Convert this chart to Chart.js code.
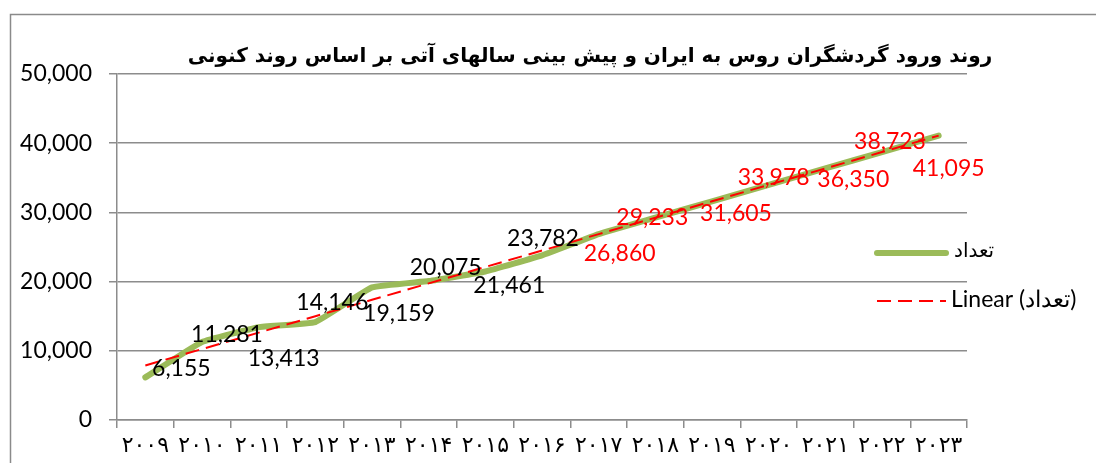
<!DOCTYPE html>
<html>
<head>
<meta charset="utf-8">
<script src="https://cdn.jsdelivr.net/npm/chart.js@4/dist/chart.umd.min.js"></script>
<style>
  html, body { margin: 0; padding: 0; background: #fff; }
  #chart { display: block; }
</style>
</head>
<body>
<canvas id="chart" width="1096" height="463"></canvas>
<script>
const TITLE = 'روند ورود گردشگران روس به ایران و پیش بینی سالهای آتی بر اساس روند کنونی';
const YEARS = ['۲۰۰۹', '۲۰۱۰', '۲۰۱۱', '۲۰۱۲', '۲۰۱۳', '۲۰۱۴', '۲۰۱۵', '۲۰۱۶',
               '۲۰۱۷', '۲۰۱۸', '۲۰۱۹', '۲۰۲۰', '۲۰۲۱', '۲۰۲۲', '۲۰۲۳'];
const ARRIVALS = [6155, 11281, 13413, 14146, 19159, 20075, 21461, 23782,
                  26860, 29233, 31605, 33978, 36350, 38723, 41095];
const OBSERVED_COUNT = 8; // 2009-2016 observed, the rest forecast
const Y_TICKS = [0, 10000, 20000, 30000, 40000, 50000];
const SERIES_LABEL = 'تعداد';
const TREND_LABEL = 'Linear (تعداد)';

// label nudges (px) relative to each point, as placed in the original
const LABEL_OFFSETS = [[36, -9], [25, -7], [25, 31], [17, -20], [27, 26], [17, -14], [24, 14], [1, -17],
                       [21, 19], [-3, 0], [24, 12], [5, -7], [28, 11], [8, -10], [10, 33]];

const GREEN = '#9BBB59';
const RED = '#FF0000';
const GRID = '#8c8c8c';
const NUM_FONT = 'Lato, "Open Sans", sans-serif';

// least squares trendline over the series
function linearTrend(values) {
    const n = values.length;
    const mx = (n - 1) / 2;
    const my = values.reduce((a, b) => a + b, 0) / n;
    let sxy = 0, sxx = 0;
    values.forEach((v, i) => { sxy += (i - mx) * (v - my); sxx += (i - mx) * (i - mx); });
    const b = sxy / sxx;
    return values.map((_, i) => my + b * (i - mx));
}

const fmt = (v) => v.toLocaleString('en-US');

const framePlugin = {
    id: 'frame',
    beforeDraw(chart) {
        const ctx = chart.ctx;
        ctx.save();
        ctx.fillStyle = '#fff';
        ctx.fillRect(0, 0, chart.width, chart.height);
        ctx.strokeStyle = '#8a8a8a';
        ctx.lineWidth = 1.5;
        ctx.strokeRect(10.5, 14.5, chart.width + 20, chart.height + 20);
        // title
        ctx.fillStyle = '#000';
        ctx.font = 'bold 20px "DejaVu Sans", sans-serif';
        ctx.textAlign = 'center';
        ctx.textBaseline = 'middle';
        ctx.direction = 'rtl';
        ctx.fillText(TITLE, 590, 57);
        ctx.restore();
    }
};

const labelPlugin = {
    id: 'pointLabels',
    afterDatasetsDraw(chart) {
        const ctx = chart.ctx;
        const meta = chart.getDatasetMeta(0);
        ctx.save();
        ctx.font = '23px ' + NUM_FONT;
        ctx.textAlign = 'center';
        ctx.textBaseline = 'middle';
        meta.data.forEach((pt, i) => {
            const [dx, dy] = LABEL_OFFSETS[i];
            ctx.fillStyle = i < OBSERVED_COUNT ? '#000' : RED;
            ctx.fillText(fmt(ARRIVALS[i]), pt.x + dx, pt.y + dy);
        });
        ctx.restore();
    }
};

const legendPlugin = {
    id: 'sideLegend',
    afterDraw(chart) {
        const ctx = chart.ctx;
        const ds = chart.data.datasets;
        ctx.save();
        ctx.textBaseline = 'middle';
        ctx.textAlign = 'left';
        // series
        ctx.strokeStyle = ds[0].borderColor;
        ctx.lineWidth = ds[0].borderWidth;
        ctx.lineCap = 'round';
        ctx.beginPath();
        ctx.moveTo(877, 253);
        ctx.lineTo(946, 253);
        ctx.stroke();
        ctx.fillStyle = '#000';
        ctx.font = '20px "DejaVu Sans", sans-serif';
        ctx.fillText(ds[0].label, 954, 252);
        // trend
        ctx.strokeStyle = ds[1].borderColor;
        ctx.lineWidth = ds[1].borderWidth;
        ctx.lineCap = 'butt';
        ctx.setLineDash(ds[1].borderDash);
        ctx.beginPath();
        ctx.moveTo(877, 301);
        ctx.lineTo(946, 301);
        ctx.stroke();
        ctx.setLineDash([]);
        ctx.font = '23px ' + NUM_FONT;
        ctx.fillText(ds[1].label, 951, 300);
        ctx.restore();
    }
};

new Chart(document.getElementById('chart'), {
    type: 'line',
    data: {
        labels: YEARS,
        datasets: [
            {
                label: SERIES_LABEL,
                data: ARRIVALS,
                borderColor: GREEN,
                borderWidth: 6,
                borderCapStyle: 'round',
                borderJoinStyle: 'round',
                tension: 0.1,
                pointRadius: 0,
                fill: false,
                order: 2
            },
            {
                label: TREND_LABEL,
                data: linearTrend(ARRIVALS),
                borderColor: RED,
                borderWidth: 2,
                borderDash: [14, 7],
                tension: 0,
                pointRadius: 0,
                fill: false,
                order: 1
            }
        ]
    },
    options: {
        responsive: false,
        animation: false,
        events: [],
        layout: { padding: { top: 74, right: 129, left: 0, bottom: 0 } },
        plugins: {
            legend: { display: false },
            title: { display: false },
            tooltip: { enabled: false }
        },
        scales: {
            x: {
                offset: true,
                afterFit: (s) => { s.height = 43; },
                grid: {
                    offset: true,
                    drawOnChartArea: false,
                    drawTicks: true,
                    tickLength: 8,
                    color: GRID,
                    lineWidth: 1.5
                },
                border: { color: GRID, width: 1.5 },
                ticks: {
                    autoSkip: false,
                    maxRotation: 0,
                    padding: 5,
                    color: '#000',
                    font: { family: '"DejaVu Sans", sans-serif', size: 22 }
                }
            },
            y: {
                min: 0,
                max: 50000,
                afterFit: (s) => { s.width = 117; },
                afterBuildTicks: (s) => { s.ticks = Y_TICKS.map((v) => ({ value: v })); },
                grid: {
                    color: GRID,
                    lineWidth: 1.5,
                    drawTicks: true,
                    tickLength: 8
                },
                border: { color: GRID, width: 1.5 },
                ticks: {
                    padding: 17,
                    color: '#000',
                    font: { family: NUM_FONT, size: 23 },
                    callback: (v) => fmt(v)
                }
            }
        }
    },
    plugins: [framePlugin, labelPlugin, legendPlugin]
});
</script>
</body>
</html>
